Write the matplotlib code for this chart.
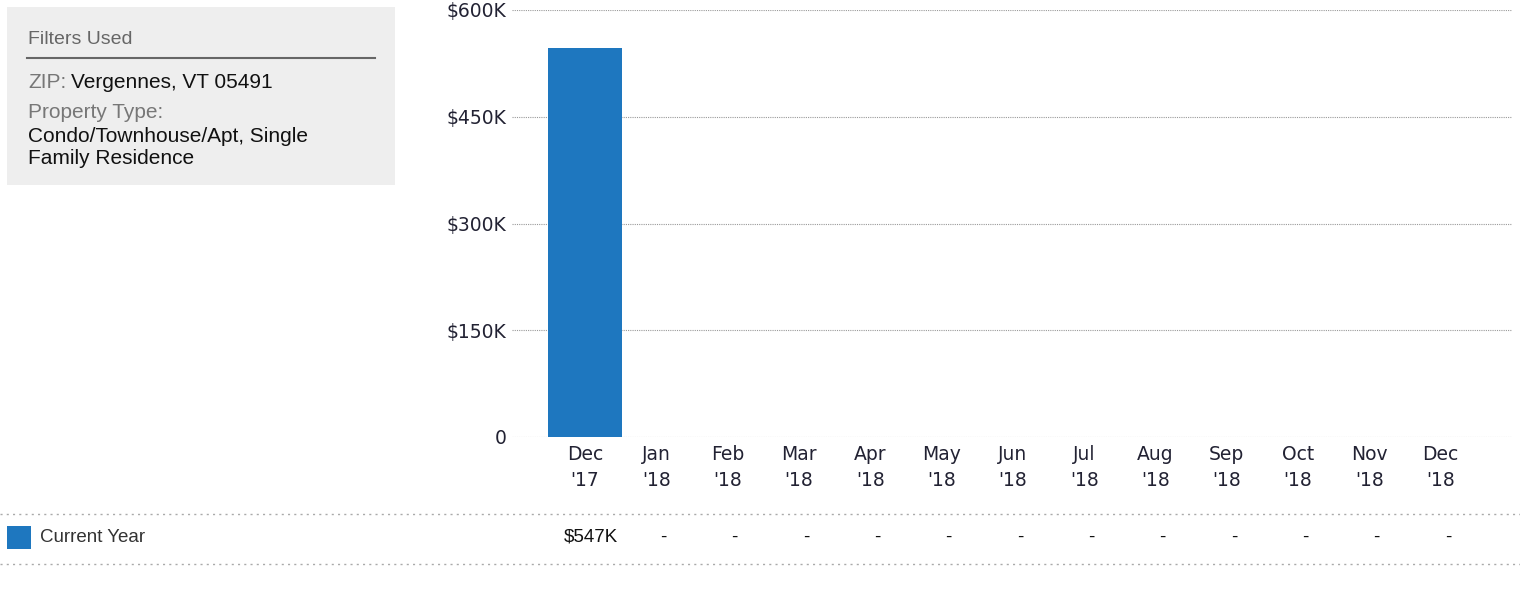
import matplotlib.pyplot as plt
import matplotlib.patches as mpatches
from matplotlib.transforms import blended_transform_factory
import numpy as np

months = ["Dec\n'17", "Jan\n'18", "Feb\n'18", "Mar\n'18", "Apr\n'18", "May\n'18", "Jun\n'18",
          "Jul\n'18", "Aug\n'18", "Sep\n'18", "Oct\n'18", "Nov\n'18", "Dec\n'18"]
current_year = [547000, 0, 0, 0, 0, 0, 0, 0, 0, 0, 0, 0, 0]
table_values = ["$547K", "-", "-", "-", "-", "-", "-", "-", "-", "-", "-", "-", "-"]
y_ticks = [0, 150000, 300000, 450000, 600000]
y_labels = ["0", "$150K", "$300K", "$450K", "$600K"]

bar_color = '#1e77bf'

fig = plt.figure(figsize=(15.2, 6.03), dpi=100)

# Основной график
ax = fig.add_axes([512 / 1520, 1 - 437 / 603, 1000 / 1520, 427 / 603])
x = np.arange(len(months))
ax.bar(x, current_year, width=1.05, color=bar_color, zorder=3)
ax.set_xlim(-1.023, 13.0)
ax.set_ylim(0, 600000)
ax.set_yticks(y_ticks)
ax.set_yticklabels(y_labels, fontsize=13.5, color='#222233', family='DejaVu Sans')
ax.set_xticks(x)
ax.set_xticklabels(months, fontsize=13.5, color='#222233', family='DejaVu Sans', linespacing=1.45)
ax.tick_params(axis='both', length=0)
ax.tick_params(axis='y', pad=4)
ax.tick_params(axis='x', pad=6)
for s in ax.spines.values():
    s.set_visible(False)
ax.grid(axis='y', linestyle=(0, (1, 1)), color='#999999', linewidth=0.8, zorder=0)
ax.set_axisbelow(True)

# Панель фильтров
fig.patches.append(mpatches.Rectangle((7 / 1520, 1 - 185 / 603), 388 / 1520, 178 / 603,
                                      transform=fig.transFigure, facecolor='#eeeeee',
                                      edgecolor='none'))
fig.text(28 / 1520, 1 - 40 / 603, 'Filters Used', fontsize=14, color='#666666',
         family='Liberation Sans', va='center')
fig.add_artist(plt.Line2D([27 / 1520, 375 / 1520], [1 - 58 / 603, 1 - 58 / 603],
                          color='#666666', linewidth=1.5))
fig.text(28 / 1520, 1 - 83 / 603, 'ZIP:', fontsize=15, color='#777777',
         family='Liberation Sans', va='center')
fig.text(71 / 1520, 1 - 83 / 603, 'Vergennes, VT 05491', fontsize=15, color='#111111',
         family='Liberation Sans', va='center')
fig.text(28 / 1520, 1 - 112 / 603, 'Property Type:', fontsize=15, color='#777777',
         family='Liberation Sans', va='center')
fig.text(28 / 1520, 1 - 136 / 603, 'Condo/Townhouse/Apt, Single', fontsize=15,
         color='#111111', family='Liberation Sans', va='center')
fig.text(28 / 1520, 1 - 159 / 603, 'Family Residence', fontsize=15,
         color='#111111', family='Liberation Sans', va='center')

# Таблица снизу
for yy in [514, 564]:
    fig.add_artist(plt.Line2D([0, 1], [1 - yy / 603, 1 - yy / 603], color='#aaaaaa',
                              linewidth=1, linestyle=(0, (1.5, 3))))
fig.patches.append(mpatches.Rectangle((7 / 1520, 1 - 549 / 603), 24 / 1520, 23 / 603,
                                      transform=fig.transFigure, facecolor=bar_color,
                                      edgecolor='none'))
fig.text(40 / 1520, 1 - 538 / 603, 'Current Year', fontsize=13.5, color='#333333',
         family='Liberation Sans', va='center')
trans = blended_transform_factory(ax.transData, fig.transFigure)
for i, v in enumerate(table_values):
    if v == '-':
        ax.text(x[i] + 0.1, 1 - 537 / 603, v, transform=trans, fontsize=13.5, color='#111111',
                family='Liberation Sans', ha='center', va='center', clip_on=False)
    else:
        ax.text(x[i] + 0.47, 1 - 537 / 603, v, transform=trans, fontsize=13.5, color='#111111',
                family='Liberation Sans', ha='right', va='center', clip_on=False)

fig.savefig('out.png', dpi=100)
